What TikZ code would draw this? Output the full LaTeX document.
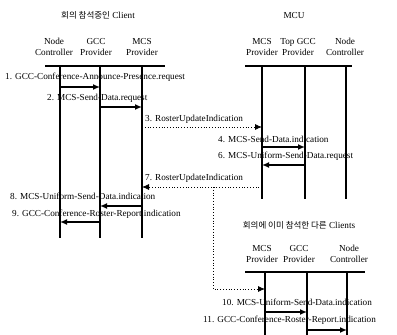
\documentclass[tikz,border=0pt]{standalone}
\usepackage{fontspec}
\setmainfont{Liberation Serif}
\newfontfamily\kofont{Noto Sans CJK KR}
\usetikzlibrary{arrows.meta}

\begin{document}
\begin{tikzpicture}[x=1pt, y=-1pt,
    life/.style={line width=1.8pt},
    msg/.style={line width=1.5pt, ->},
    note/.style={dotted, line width=0.8pt, ->},
    lbl/.style={anchor=west, inner sep=0pt, font=\fontsize{9.2}{10}\selectfont},
    hdr/.style={align=center, inner sep=0pt, font=\fontsize{9.2}{11}\selectfont}]
        \tikzset{>={Latex[length=7pt,width=6pt]}}
        \useasboundingbox (0,0) rectangle (397,335);

        % Titles of the three groups
        \node[hdr] (client) at (98,15) {{\kofont\fontsize{8.5}{9}\selectfont 회의 참석중인} Client};
        \node[hdr] (mcu) at (294,15) {MCU};
        \node[hdr] (others) at (299,225) {{\kofont\fontsize{8.5}{9}\selectfont 회의에 이미 참석한 다른} Clients};

        % Column heads
        \node[hdr] (hcnc) at (54,47) {Node\\Controller};
        \node[hdr] (hcgcc) at (96,47) {GCC\\Provider};
        \node[hdr] (hcmcs) at (142,47) {MCS\\Provider};
        \node[hdr] (humcs) at (262,47) {MCS\\Provider};
        \node[hdr] (hugcc) at (298,47) {Top GCC\\Provider};
        \node[hdr] (hunc) at (345,47) {Node\\Controller};
        \node[hdr] (homcs) at (262,254) {MCS\\Provider};
        \node[hdr] (hogcc) at (299,254) {GCC\\Provider};
        \node[hdr] (honc) at (349,254) {Node\\Controller};

        % Head bars
        \coordinate (cl) at (45,66);  \coordinate (cr) at (165,66);
        \coordinate (ul) at (245,66); \coordinate (ur) at (352,66);
        \coordinate (ol) at (245,272); \coordinate (or) at (365,272);
        \draw[life] (cl) -- (cr);
        \draw[life] (ul) -- (ur);
        \draw[life] (ol) -- (or);

        % Lifelines
        \foreach \n/\x/\t/\b in {cnc/60/66/238, cgcc/100/66/238, cmcs/142/66/238,
                                 umcs/262/66/199, ugcc/305/66/199, unc/346/66/199,
                                 omcs/265/272/335, ogcc/307/272/335, onc/347/272/335} {
          \coordinate (\n) at (\x,\t);
          \coordinate (\n end) at (\x,\b);
          \draw[life] (\n) -- (\n end);
        }

        % Messages
        \foreach \i/\a/\b/\y/\tx/\ty/\txt in {
            1/cnc/cgcc/87/5/77/1. GCC-Conference-Announce-Presence.request,
            2/cgcc/cmcs/107/47/98/2. MCS-Send-Data.request,
            4/umcs/ugcc/147/218/139/4. MCS-Send-Data.indication,
            6/ugcc/umcs/165/218/156/6. MCS-Uniform-Send-Data.request,
            8/cmcs/cgcc/206/10/196/8. MCS-Uniform-Send-Data.indication,
            9/cgcc/cnc/222/12/214/9. GCC-Conference-Roster-Report.indication,
            10/omcs/ogcc/312/222/302/10. MCS-Uniform-Send-Data.indication,
            11/ogcc/onc/330/203/320/11. GCC-Conference-Roster-Report.indication} {
          \node[lbl] (m\i) at (\tx,\ty) {\txt};
          \draw[msg] (\a |- 0,\y) -- (\b |- 0,\y);
        }

        % Roster updates
        \node[lbl] (m3) at (145,119) {3. RosterUpdateIndication};
        \draw[note] (cmcs |- 0,127) -- (umcs |- 0,127);
        \node[lbl] (m7) at (145,178) {7. RosterUpdateIndication};
        \draw[note] (umcs |- 0,187) -- (cmcs |- 0,187);
        \coordinate (split) at (213,187);
        \draw[note] (split) -- (213,289) -- (omcs |- 0,289);
\end{tikzpicture}
\end{document}
